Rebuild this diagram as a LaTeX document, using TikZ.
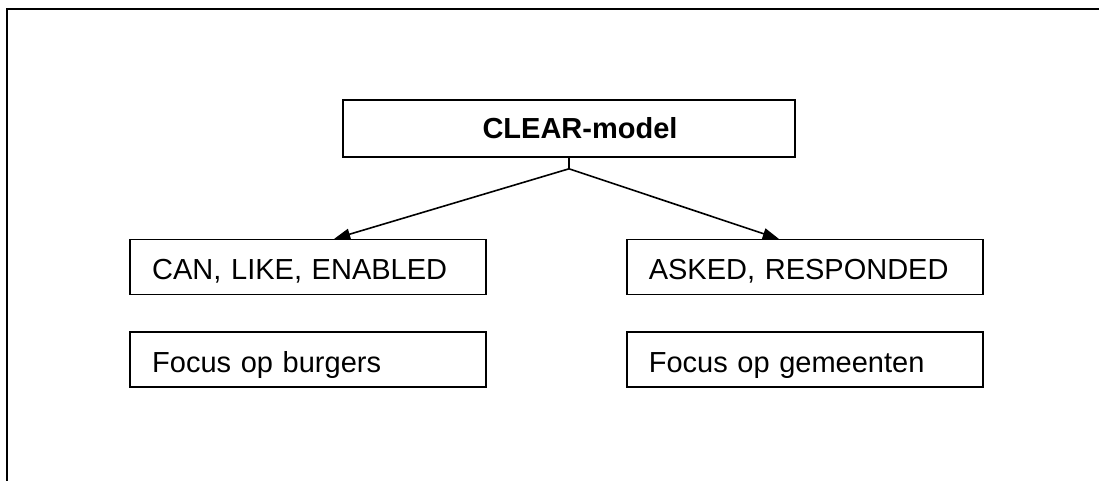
\documentclass[tikz,border=0pt]{standalone}
\usepackage{fontspec}
\setmainfont{Liberation Sans}
\usetikzlibrary{positioning, arrows.meta}

\begin{document}
\begin{tikzpicture}[line width = 0.8pt, font = \fontsize{14.5}{17}\selectfont, draw = black, -{Triangle[length = 8pt, width = 5.5pt]}, box/.style = {draw, minimum height = 27.5pt, text width = 156pt, text height = 13.5pt, text depth = 1pt, inner xsep = 11pt, align = left}]
  \useasboundingbox (0, 0) rectangle (549.5pt, -240.5pt);
  \draw [-, line width = 1pt] (3.5pt, -250pt) -- (3.5pt, -4.5pt) -- (560pt, -4.5pt);

  \node (clear) [draw, minimum width = 226pt, minimum height = 28.5pt, font = \fontsize{14.5}{17}\selectfont\bfseries] at (284.5pt, -64.25pt) {\hspace*{11pt}CLEAR-model};
  \coordinate [below = 5.5pt of clear.south] (split);
  \node (canlike) [box, below left = 40.5pt and 41pt of clear.south] {CAN, LIKE, ENABLED};
  \node (asked) [box, below right = 40.5pt and 28.5pt of clear.south] {ASKED, RESPONDED};
  \node (burgers) [box, below = 18pt of canlike] {Focus op burgers};
  \node (gemeenten) [box, below = 18pt of asked] {Focus op gemeenten};

  \draw [-] (clear.south) -- (split);
  \draw (split) -- ([xshift = 13pt] canlike.north);
  \draw (split) -- ([xshift = -13pt] asked.north);
\end{tikzpicture}
\end{document}
